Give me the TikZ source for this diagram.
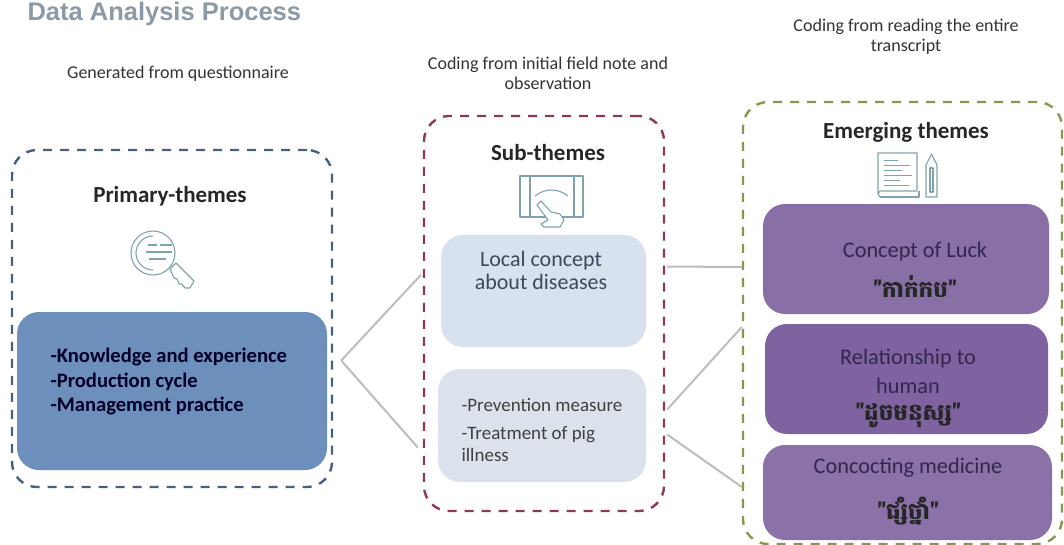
\documentclass[tikz,border=0pt]{standalone}
\usepackage{fontspec}
\setmainfont{Carlito}
\newfontfamily\titlefont{Liberation Sans}
\newfontfamily\khmerfont[Script=Khmer]{Battambang}
\usepackage{xcolor}
\usetikzlibrary{calc}

\definecolor{titlecol}{HTML}{8C99A6}
\definecolor{framebluecol}{HTML}{45617F}
\definecolor{frameredcol}{HTML}{8E3A4E}
\definecolor{framegreencol}{HTML}{83994F}
\definecolor{primaryfill}{HTML}{6D8FBC}
\definecolor{subfillone}{HTML}{D8E1EE}
\definecolor{subfilltwo}{HTML}{DCE2EC}
\definecolor{lumafillone}{HTML}{8870A6}
\definecolor{lumafilltwo}{HTML}{7E63A0}
\definecolor{lumafillthree}{HTML}{8A72A8}
\definecolor{purpletext}{HTML}{32264F}
\definecolor{slatetext}{HTML}{3B4A5E}
\definecolor{icontext}{HTML}{7FA3AC}
\definecolor{linkcol}{HTML}{BDBDBD}

\tikzset{
    themeframe/.style={draw, rectangle, rounded corners=25pt, line width=2.4pt, dash pattern=on 9pt off 8pt, inner sep=0pt},
    themebox/.style={rectangle, rounded corners=22pt, inner sep=0pt},
    heading/.style={font=\fontsize{23}{26}\selectfont\bfseries, text=black!85},
    caption/.style={font=\fontsize{18}{20}\selectfont, text=black!80, align=center},
    link/.style={draw=linkcol, line width=2pt},
    iconline/.style={draw=icontext, line width=1.1pt, line join=round},
    lumatext/.style={font=\fontsize{22.3}{29}\selectfont, text=purpletext, align=center},
    khmerlabel/.style={font=\fontsize{23}{26}\selectfont\khmerfont\bfseries, text=black!85},
}

\begin{document}
\begin{tikzpicture}[x=1pt, y=-1pt]
    \useasboundingbox (0,0) rectangle (1064,544);

    % Title and captions
    \node[font=\fontsize{25.5}{28}\selectfont\titlefont\bfseries, text=titlecol, anchor=west, inner ysep=1pt] (title) at (24,14) {Data Analysis Process};
    \node[caption] (capprimary) at (178,74) {Generated from questionnaire};
    \node[caption] (capsub) at (548,73) {Coding from initial field note and\\observation};
    \node[caption] (capemerging) at (906,37) {Coding from reading the entire\\transcript};

    % Primary themes
    \node[themeframe, draw=framebluecol, minimum width=320pt, minimum height=337pt] (primaryframe) at (172,318.5) {};
    \node[heading] (primaryhead) at (170,196) {Primary-themes};
    \node[themebox, fill=primaryfill, minimum width=310pt, minimum height=158pt] (primarybox) at (172,391) {};
    \node[font=\fontsize{20.6}{24.5}\selectfont\bfseries, text=black!85!blue, align=left, anchor=west] (primarytext) at (47,382) {-Knowledge and experience\\-Production cycle\\-Management practice};

    % Sub themes
    \node[themeframe, draw=frameredcol, minimum width=240pt, minimum height=395pt] (subframe) at (544,313.5) {};
    \node[heading] (subhead) at (548,153) {Sub-themes};
    \node[themebox, fill=subfillone, minimum width=205pt, minimum height=112pt] (conceptbox) at (543.5,291) {};
    \node[font=\fontsize{22}{23}\selectfont, text=slatetext, align=center] (concepttext) at (541,270) {Local concept\\about diseases};
    \node[themebox, fill=subfilltwo, minimum width=208pt, minimum height=113pt] (preventbox) at (542,425.5) {};
    \node[font=\fontsize{19}{22}\selectfont, text=black!75, align=left, anchor=west] (preventtext) at (458,430) {-Prevention measure\\[6pt]-Treatment of pig\\illness};

    % Emerging themes
    \node[themeframe, draw=framegreencol, minimum width=319pt, minimum height=442pt] (emergingframe) at (902.5,323) {};
    \node[heading] (emerginghead) at (906,132) {Emerging themes};
    \node[themebox, fill=lumafillone, minimum width=286pt, minimum height=110pt] (luckbox) at (906,259) {};
    \node[lumatext] (lucktext) at (915,252) {Concept of Luck};
    \node[khmerlabel] (luckkhmer) at (915,287) {"កាក់កប"};
    \node[themebox, fill=lumafilltwo, minimum width=283pt, minimum height=110pt] (humanbox) at (906.5,379) {};
    \node[lumatext] (humantext) at (908,371.5) {Relationship to\\human};
    \node[khmerlabel] (humankhmer) at (908,415) {"ដូចមនុស្ស"};
    \node[themebox, fill=lumafillthree, minimum width=289pt, minimum height=95pt] (medicinebox) at (907.5,492.5) {};
    \node[lumatext] (medicinetext) at (908,468) {Concocting medicine};
    \node[khmerlabel] (medicinekhmer) at (908,511) {"ផ្សំថ្នាំ"};

    % Link ends
    \coordinate (primaryout) at ($(primaryframe.east)+(8,42)$);
    \coordinate (conceptin) at ($(conceptbox.west)+(-20,-16)$);
    \coordinate (preventin) at ($(preventbox.west)+(-20,22)$);
    \coordinate (conceptout) at ($(subframe.east)+(2,-47)$);
    \coordinate (preventout) at ($(subframe.east)+(2,96)$);
    \coordinate (preventoutb) at ($(subframe.east)+(2,121)$);
    \coordinate (luckin) at ($(emergingframe.west)+(0,-56)$);
    \coordinate (humanin) at ($(emergingframe.west)+(0,4)$);
    \coordinate (medicinein) at ($(emergingframe.west)+(0,164)$);

    % Links
    \draw[link] (primaryout) -- (conceptin);
    \draw[link] (primaryout) -- (preventin);
    \draw[link] (conceptout) -- (luckin);
    \draw[link] (preventout) -- (humanin);
    \draw[link] (preventoutb) -- (medicinein);

    % Key icon
    \draw[iconline] (153,253) circle (22);
    \draw[iconline] (153,236) arc (270:90:17);
    \draw[iconline] (148,245) -- (157,245) (160,245) -- (172,245) (146,252) -- (172,252) (149,259) -- (166,259);
    \draw[iconline, fill=white] (170,269) -- (176,263) -- (194,281) -- (190,288) -- (185,288) -- (182,284) -- (179,284) -- (177,279) -- (174,278) -- cycle;

    % Tablet icon
    \draw[iconline] (520,176) rectangle (583,217);
    \draw[iconline] (530,176) -- (530,217) (574,176) -- (574,217);
    \draw[iconline] (535,196) .. controls (545,188) and (558,188) .. (568,196);
    \draw[iconline, fill=white] (537,205) -- (541,201) -- (551,212) -- (560,214) -- (564,220) -- (560,227) -- (544,227) -- (541,224) -- (548,220) -- cycle;

    % Book and pencil icon
    \draw[iconline] (880,197) -- (878,194) -- (878,153) -- (917,153) -- (917,191) -- (880,191) -- (878,194);
    \draw[iconline] (880,197) -- (919,197) -- (919,191);
    \foreach \y/\xend in {160/898, 165/910, 170/902, 175/912, 180/900, 185/909} {
        \draw[draw=icontext, line width=0.8pt] (884,\y) -- (\xend,\y);
    }
    \draw[iconline] (926,197) -- (926,165) -- (931.5,154) -- (937,165) -- (937,197) -- cycle;
    \draw[iconline] (930,168) -- (930,192) -- (933,192) -- (933,168) -- cycle;
\end{tikzpicture}
\end{document}
